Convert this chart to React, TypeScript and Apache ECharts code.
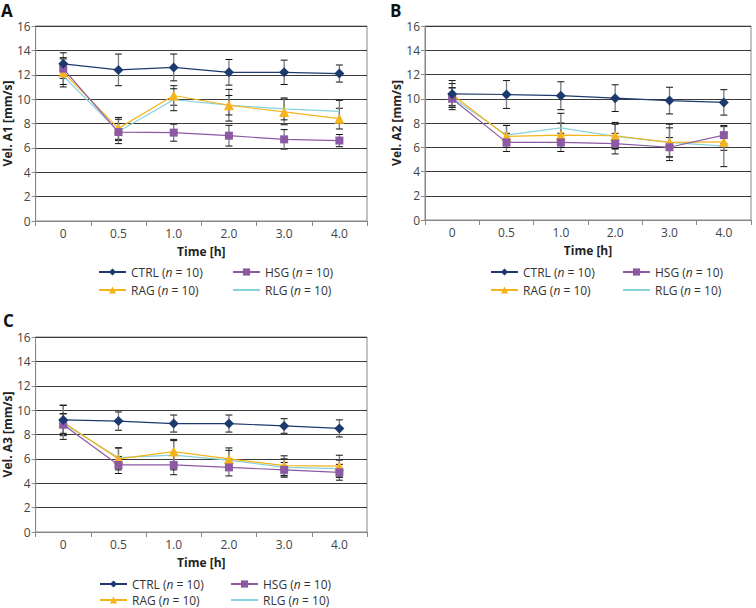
import React, { useEffect, useRef } from "react";
import * as echarts from "echarts";

const categories = ["0", "0.5", "1.0", "2.0", "3.0", "4.0"];
const seriesNames = ["CTRL", "HSG", "RAG", "RLG"];
const yAxisNames = ["Vel. A1 [mm/s]", "Vel. A2 [mm/s]", "Vel. A3 [mm/s]"];
const panelLetters = ["A", "B", "C"];

// Panel A (Vel. A1)
const ctrlA = [12.9, 12.4, 12.6, 12.2, 12.2, 12.1];
const ctrlAErr = [0.9, 1.3, 1.1, 1.05, 1.0, 0.7];
const hsgA = [12.5, 7.3, 7.25, 7.0, 6.7, 6.6];
const hsgAErr = [0.8, 0.7, 0.7, 0.85, 0.8, 0.5];
const ragA = [12.2, 7.6, 10.3, 9.5, 8.95, 8.4];
const ragAErr = [1.2, 0.9, 0.8, 1.3, 1.05, 0.85];
const rlgA = [11.9, 7.35, 9.95, 9.5, 9.2, 9.0];
const rlgAErr = [0.7, 1.0, 0.9, 0.8, 0.9, 0.9];

// Panel B (Vel. A2)
const ctrlB = [10.4, 10.35, 10.25, 10.05, 9.85, 9.7];
const ctrlBErr = [1.1, 1.15, 1.15, 1.1, 1.1, 1.05];
const hsgB = [10.0, 6.4, 6.4, 6.3, 6.0, 7.0];
const hsgBErr = [0.9, 0.75, 0.75, 0.85, 0.8, 0.7];
const ragB = [10.35, 6.9, 7.0, 6.95, 6.4, 6.45];
const ragBErr = [0.9, 0.9, 1.0, 1.1, 1.5, 0.7];
const rlgB = [10.1, 7.0, 7.6, 6.9, 6.4, 6.1];
const rlgBErr = [0.8, 0.8, 1.2, 1.0, 1.2, 1.7];

// Panel C (Vel. A3)
const ctrlC = [9.2, 9.1, 8.9, 8.9, 8.7, 8.5];
const ctrlCErr = [1.2, 0.75, 0.7, 0.7, 0.6, 0.7];
const hsgC = [8.8, 5.5, 5.5, 5.3, 5.1, 4.9];
const hsgCErr = [0.9, 0.7, 0.8, 0.7, 0.6, 0.65];
const ragC = [9.0, 6.0, 6.6, 6.0, 5.45, 5.4];
const ragCErr = [1.4, 0.9, 1.0, 0.9, 0.8, 0.9];
const rlgC = [8.9, 6.1, 6.3, 5.9, 5.3, 5.2];
const rlgCErr = [0.8, 0.8, 1.2, 0.8, 0.7, 0.7];

const panelValues = [
  [ctrlA, hsgA, ragA, rlgA],
  [ctrlB, hsgB, ragB, rlgB],
  [ctrlC, hsgC, ragC, rlgC],
];
const panelErrors = [
  [ctrlAErr, hsgAErr, ragAErr, rlgAErr],
  [ctrlBErr, hsgBErr, ragBErr, rlgBErr],
  [ctrlCErr, hsgCErr, ragCErr, rlgCErr],
];

const FONT = "Open Sans";
const colors = ["#1d3a6e", "#8c5aa5", "#f5b31c", "#86d3dc"];
const symbols = ["diamond", "rect", "triangle", "none"];
const symbolSizes = [10, 8, 10, 0];

const grids = [
  { left: 35, top: 26, width: 332, height: 195 },
  { left: 425, top: 26, width: 326, height: 194 },
  { left: 35, top: 337, width: 332, height: 195 },
];
const legendPos = [
  { x1: 98, x2: 232, y1: 272, y2: 290 },
  { x1: 490, x2: 622, y1: 272, y2: 290 },
  { x1: 99, x2: 230, y1: 584, y2: 600 },
];
const letterPos = [
  { x: 1, y: 2 },
  { x: 390, y: 2 },
  { x: 3, y: 312 },
];

export default function App() {
  const ref = useRef<HTMLDivElement>(null);
  useEffect(() => {
    if (!ref.current) return;
    const chart = echarts.init(ref.current, undefined, { renderer: "svg" });

    const xAxes: any[] = [];
    const yAxes: any[] = [];
    const series: any[] = [];
    const legends: any[] = [];

    grids.forEach((g, p) => {
      xAxes.push({
        type: "category",
        gridIndex: p,
        data: categories,
        boundaryGap: true,
        name: "Time [h]",
        nameLocation: "middle",
        nameGap: 24,
        nameTextStyle: { fontFamily: FONT, fontWeight: "bold", fontSize: 12, color: "#222" },
        axisLine: { show: true, lineStyle: { color: "#888", width: 1 } },
        axisTick: { show: true, length: 5, lineStyle: { color: "#888" } },
        axisLabel: { fontFamily: FONT, fontSize: 12, color: "#444", margin: 6 },
        splitLine: { show: false },
      });
      yAxes.push({
        type: "value",
        gridIndex: p,
        min: 0,
        max: 16,
        interval: 2,
        name: yAxisNames[p],
        nameLocation: "middle",
        nameGap: 22,
        nameTextStyle: { fontFamily: FONT, fontWeight: "bold", fontSize: 12, color: "#222" },
        axisLine: { show: true, lineStyle: { color: "#888", width: 1 } },
        axisTick: { show: true, length: 4, lineStyle: { color: "#888" } },
        axisLabel: { fontFamily: FONT, fontSize: 12, color: "#444", margin: 5 },
        splitLine: { show: true, lineStyle: { color: "#3a3a3a", width: 1 } },
      });

      seriesNames.forEach((name, s) => {
        const vals = panelValues[p][s];
        const errs = panelErrors[p][s];
        series.push({
          type: "custom",
          name: "err-" + name,
          xAxisIndex: p,
          yAxisIndex: p,
          z: 1,
          silent: true,
          encode: { x: 0, y: [1, 2] },
          data: vals.map((v, i) => [i, v - errs[i], v + errs[i]]),
          renderItem: (_params: any, api: any) => {
            const x = api.value(0);
            const lo = api.coord([x, api.value(1)]);
            const hi = api.coord([x, api.value(2)]);
            const hw = 3.5;
            return {
              type: "group",
              children: [
                { type: "line", shape: { x1: hi[0], y1: hi[1], x2: lo[0], y2: lo[1] }, style: { stroke: "#7d7d7d", lineWidth: 1.3 } },
                { type: "line", shape: { x1: hi[0] - hw, y1: hi[1], x2: hi[0] + hw, y2: hi[1] }, style: { stroke: "#111", lineWidth: 1 } },
                { type: "line", shape: { x1: lo[0] - hw, y1: lo[1], x2: lo[0] + hw, y2: lo[1] }, style: { stroke: "#111", lineWidth: 1 } },
              ],
            };
          },
        });
      });

      // lines drawn in reverse so CTRL is on top
      [3, 2, 1, 0].forEach((s) => {
        series.push({
          type: "line",
          name: seriesNames[s],
          xAxisIndex: p,
          yAxisIndex: p,
          z: 3 + (3 - s),
          data: panelValues[p][s],
          symbol: symbols[s],
          symbolSize: symbolSizes[s],
          showSymbol: s !== 3,
          lineStyle: { color: colors[s], width: 1.2 },
          itemStyle: { color: colors[s] },
        });
      });

      const lp = legendPos[p];
      const slots = [
        { name: "CTRL", x: lp.x1, y: lp.y1 },
        { name: "HSG", x: lp.x2, y: lp.y1 },
        { name: "RAG", x: lp.x1, y: lp.y2 },
        { name: "RLG", x: lp.x2, y: lp.y2 },
      ];
      slots.forEach((sl) => {
        legends.push({
          data: [sl.name === "RLG" ? { name: "RLG", itemStyle: { opacity: 0 } } : sl.name],
          left: sl.x,
          top: sl.y - 6.5,
          padding: 0,
          itemWidth: 27,
          itemHeight: 9,
          itemGap: 4,
          selectedMode: false,
          formatter: (n: string) => n + " ({i|n} = 10)",
          textStyle: {
            fontFamily: FONT,
            fontSize: 12,
            lineHeight: 13,
            color: "#333",
            rich: { i: { fontFamily: FONT, fontSize: 12, lineHeight: 13, fontStyle: "italic", color: "#333" } },
          },
        });
      });
    });

    chart.setOption({
      animation: false,
      backgroundColor: "#ffffff",
      grid: grids.map((g) => ({ ...g, show: true, borderColor: "#888", borderWidth: 1, backgroundColor: "transparent" })),
      xAxis: xAxes,
      yAxis: yAxes,
      legend: legends,
      series,
      graphic: letterPos.map((lp, i) => ({
        type: "text",
        left: lp.x,
        top: lp.y,
        style: { text: panelLetters[i], fontFamily: FONT, fontWeight: "bold", fontSize: 17, fill: "#111" },
      })),
    });

    return () => chart.dispose();
  }, []);

  return (
    <div
      ref={ref}
      style={{ position: "absolute", left: 0, top: 0, width: 756, height: 608 }}
    />
  );
}
